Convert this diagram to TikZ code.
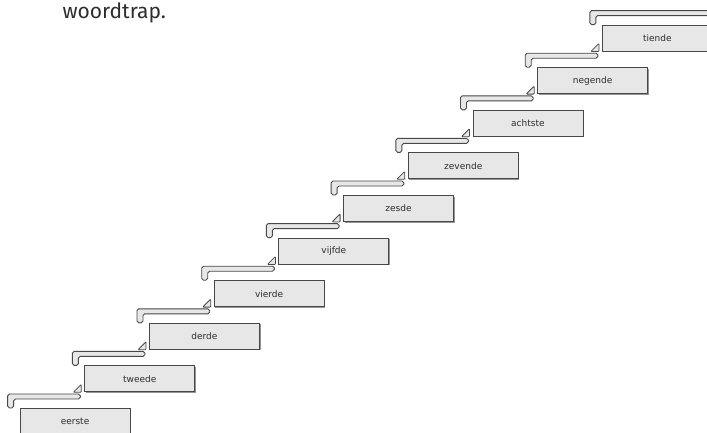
\documentclass[tikz,border=0pt]{standalone}
\usepackage{fontspec}
\setsansfont{Fira Sans}
\newfontfamily\labelfont{DejaVu Sans}
\usepackage{xcolor}
\usepackage{tikz}
\usetikzlibrary{positioning,calc,shadows}
\definecolor{stepgrey}{RGB}{231,231,231}
\definecolor{edgegrey}{RGB}{72,72,72}
\definecolor{txtgrey}{RGB}{45,45,45}
\tikzset{
  stepbox/.style={draw=edgegrey, line width=0.9pt, fill=stepgrey, anchor=north west, minimum width=110pt, minimum height=26pt, inner sep=0pt, font=\labelfont\fontsize{9}{10}\selectfont, text=txtgrey, drop shadow={shadow xshift=1.2pt, shadow yshift=-1.2pt, opacity=0.7, fill=black!60}},
  tread/.style={draw=edgegrey, line width=0.9pt, fill=stepgrey, rounded corners=1.8pt},
  nose/.style={draw=edgegrey, line width=0.8pt, fill=stepgrey, rounded corners=0.8pt, line join=round},
}

\begin{document}
\begin{tikzpicture}[x=1pt,y=-1pt]
  \useasboundingbox (0,0) rectangle (707,432);
  \clip (0,0) rectangle (707,432);
  \node[anchor=base west, font=\sffamily\fontsize{21}{22}\selectfont, text=txtgrey] (title) at (59,18) {woordtrap.};
  \foreach \i/\lbl/\len in {0/eerste/72.7, 1/tweede/72.7, 2/derde/72.7, 3/vierde/72.7, 4/vijfde/72.7, 5/zesde/72.7, 6/zevende/72.7, 7/achtste/72.7, 8/negende/72.7, 9/tiende/130}{
    \pgfmathsetmacro{\lx}{19.6+64.7*\i}
    \pgfmathsetmacro{\ty}{408-42.6*\i}
    \node[stepbox] (s\i) at (\lx,\ty) {\lbl};
    % tread above the box
    \draw[tread] ([shift={(-12,0)}]s\i.north west) -- ++(0,-14) -- ++(\len,0) -- ++(0,5) -- ++(-\len+6,0) -- ++(0,9) -- cycle;
    \ifnum\i>0
      \draw[nose] ([shift={(-3,0)}]s\i.south west) -- ++(-8,0) -- ++(8,-8) -- cycle;
    \fi
  }
\end{tikzpicture}
\end{document}
